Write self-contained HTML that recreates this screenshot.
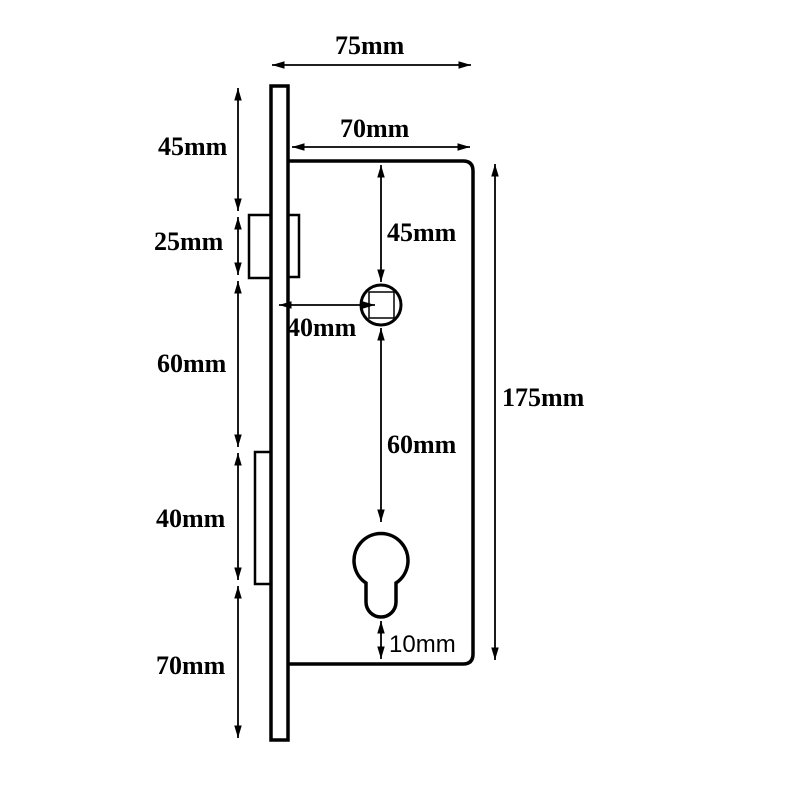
<!DOCTYPE html>
<html><head><style>body{margin:0;background:#fff}</style></head><body>
<svg width="800" height="800" viewBox="0 0 800 800" xmlns="http://www.w3.org/2000/svg">
<defs>
<marker id="a" viewBox="0 0 10 10" refX="10" refY="5" markerWidth="7" markerHeight="7" orient="auto-start-reverse"><path d="M0,2 L10,5 L0,8 z" fill="#000"/></marker>
</defs>
<g stroke="#000" fill="none">
<rect x="271" y="86" width="17" height="654" stroke-width="3.5"/>
<path d="M288 161 H463 Q473 161 473 171 V654 Q473 664 463 664 H288" stroke-width="3.5"/>
<rect x="249" y="215" width="22" height="63" stroke-width="2.5"/>
<rect x="288" y="215" width="11" height="62" stroke-width="2.5"/>
<rect x="255" y="452" width="16" height="132" stroke-width="2.5"/>
<circle cx="381" cy="305" r="20" stroke-width="3"/>
<rect x="369" y="292" width="25" height="26" stroke-width="1.5"/>
<path d="M366 583 A27 27 0 1 1 396 583 V602 A15 15 0 0 1 366 602 Z" stroke-width="3.5"/>
<g stroke-width="1.8">
<line x1="272" y1="65" x2="471" y2="65" marker-start="url(#a)" marker-end="url(#a)"/>
<line x1="292" y1="147" x2="470" y2="147" marker-start="url(#a)" marker-end="url(#a)"/>
<line x1="495" y1="164" x2="495" y2="660" marker-start="url(#a)" marker-end="url(#a)"/>
<line x1="381" y1="165" x2="381" y2="282" marker-start="url(#a)" marker-end="url(#a)"/>
<line x1="381" y1="328" x2="381" y2="522" marker-start="url(#a)" marker-end="url(#a)"/>
<line x1="381" y1="621" x2="381" y2="659" marker-start="url(#a)" marker-end="url(#a)"/>
<line x1="279" y1="305" x2="375" y2="305" marker-start="url(#a)" marker-end="url(#a)"/>
<line x1="238" y1="88" x2="238" y2="211" marker-start="url(#a)" marker-end="url(#a)"/>
<line x1="238" y1="217" x2="238" y2="275" marker-start="url(#a)" marker-end="url(#a)"/>
<line x1="238" y1="281" x2="238" y2="447" marker-start="url(#a)" marker-end="url(#a)"/>
<line x1="238" y1="453" x2="238" y2="580" marker-start="url(#a)" marker-end="url(#a)"/>
<line x1="238" y1="586" x2="238" y2="738" marker-start="url(#a)" marker-end="url(#a)"/>
</g>
</g>
<g font-family="Liberation Serif, serif" font-weight="bold" font-size="26" fill="#000">
<text x="335" y="54">75mm</text>
<text x="340" y="137">70mm</text>
<text x="387" y="241">45mm</text>
<text x="287" y="336">40mm</text>
<text x="387" y="453">60mm</text>
<text x="502" y="406">175mm</text>
<text x="158" y="155">45mm</text>
<text x="154" y="250">25mm</text>
<text x="157" y="372">60mm</text>
<text x="156" y="527">40mm</text>
<text x="156" y="674">70mm</text>
</g>
<text x="389" y="652" font-family="Liberation Sans, sans-serif" font-size="24" fill="#000">10mm</text>
</svg>
</body></html>
